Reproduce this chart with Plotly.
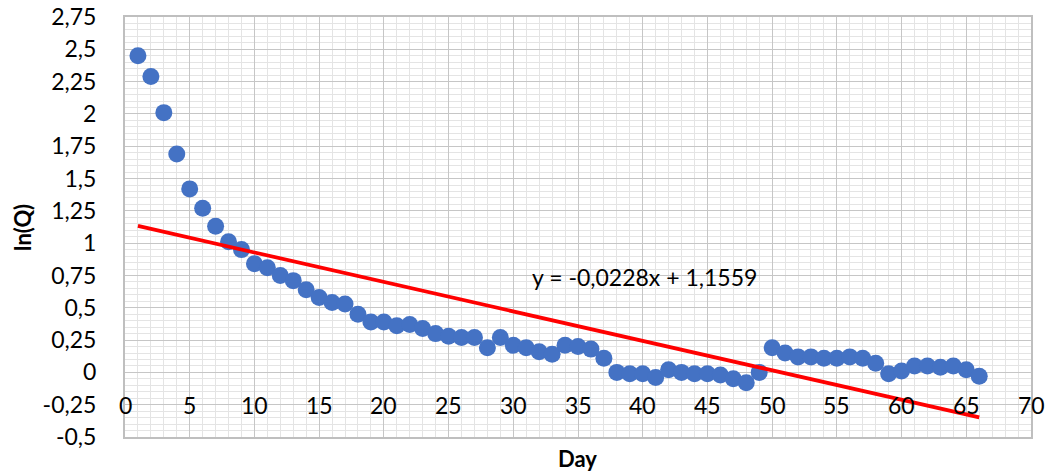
import plotly.graph_objects as go

# ---- data ----
days = list(range(1, 67))
ln_q = [2.45, 2.29, 2.01, 1.69, 1.42, 1.27, 1.13, 1.01, 0.95, 0.84,
        0.81, 0.75, 0.71, 0.64, 0.58, 0.54, 0.53, 0.45, 0.39, 0.39,
        0.36, 0.37, 0.34, 0.30, 0.28, 0.27, 0.27, 0.19, 0.27, 0.21,
        0.19, 0.16, 0.14, 0.21, 0.20, 0.18, 0.11, 0.00, -0.01, -0.01,
        -0.04, 0.02, 0.00, -0.01, -0.01, -0.02, -0.05, -0.08, 0.00, 0.19,
        0.15, 0.12, 0.12, 0.11, 0.11, 0.12, 0.11, 0.07, -0.01, 0.01,
        0.05, 0.05, 0.04, 0.05, 0.02, -0.03]
slope = -0.0228
intercept = 1.1559
trend_x = [1, 66]
equation_text = "y = -0,0228x + 1,1559"

y_tickvals = [-0.5, -0.25, 0, 0.25, 0.5, 0.75, 1, 1.25, 1.5, 1.75, 2, 2.25, 2.5, 2.75]
y_ticktext = ["-0,5", "-0,25", "0", "0,25", "0,5", "0,75", "1", "1,25", "1,5", "1,75", "2", "2,25", "2,5", "2,75"]
x_tickvals = [0, 5, 10, 15, 20, 25, 30, 35, 40, 45, 50, 55, 60, 65, 70]
x_ticktext = [str(v) for v in x_tickvals]

FONT = "Lato"
FS = 23
W, H = 1047, 472
ML, MR, MT, MB = 125, 16, 17, 35

fig = go.Figure()
fig.add_trace(go.Scatter(x=days, y=ln_q, mode="markers",
                         marker=dict(size=17, color="#4472C4", line=dict(width=0)),
                         showlegend=False))
trend_y = [slope * x + intercept for x in trend_x]
fig.add_trace(go.Scatter(x=trend_x, y=trend_y, mode="lines",
                         line=dict(color="#FF0000", width=3.8),
                         showlegend=False))

annotations = []
for v, t in zip(x_tickvals, x_ticktext):
    annotations.append(dict(x=v, y=-0.25, xref="x", yref="y", text=t, showarrow=False,
                            xanchor="center", yanchor="middle", yshift=0,
                            font=dict(family=FONT, size=FS, color="#000000")))
annotations.append(dict(x=40.1, y=0.735, xref="x", yref="y", text=equation_text,
                        showarrow=False, xanchor="center", yanchor="middle",
                        font=dict(family=FONT, size=FS, color="#000000")))
pw = W - ML - MR
ph = H - MT - MB
annotations.append(dict(x=(577 - ML) / pw, y=-(458 - (H - MB)) / ph, xref="paper", yref="paper",
                        text="<b>Day</b>", showarrow=False, xanchor="center", yanchor="middle",
                        font=dict(family=FONT, size=22, color="#000000")))
annotations.append(dict(x=(22 - ML) / pw, y=1 - (228 - MT) / ph, xref="paper", yref="paper",
                        text="<b>ln(Q)</b>", showarrow=False, xanchor="center", yanchor="middle",
                        textangle=-90, font=dict(family=FONT, size=22, color="#000000")))

fig.update_layout(
    width=W, height=H,
    margin=dict(l=ML, r=MR, t=MT, b=MB, pad=0, autoexpand=False),
    paper_bgcolor="white", plot_bgcolor="white",
    font=dict(family=FONT, size=FS, color="#000000"),
    annotations=annotations,
    xaxis=dict(range=[0, 70], tickvals=x_tickvals, showticklabels=False, automargin=False,
               showgrid=True, gridcolor="#c6c6c6", gridwidth=1,
               minor=dict(dtick=1, showgrid=True, gridcolor="#e4e4e4", gridwidth=1),
               showline=True, mirror=True, linecolor="#bfbfbf", linewidth=2,
               zeroline=False, ticks=""),
    yaxis=dict(range=[-0.5, 2.75], tickvals=y_tickvals, ticktext=y_ticktext, automargin=False,
               showgrid=True, gridcolor="#c6c6c6", gridwidth=1,
               minor=dict(dtick=0.05, tick0=0, showgrid=True, gridcolor="#e4e4e4", gridwidth=1),
               showline=True, mirror=True, linecolor="#bfbfbf", linewidth=2,
               zeroline=False, ticks="", ticklabelstandoff=22,
               tickfont=dict(family=FONT, size=FS, color="#000000")),
)

fig.write_html("out.html")
